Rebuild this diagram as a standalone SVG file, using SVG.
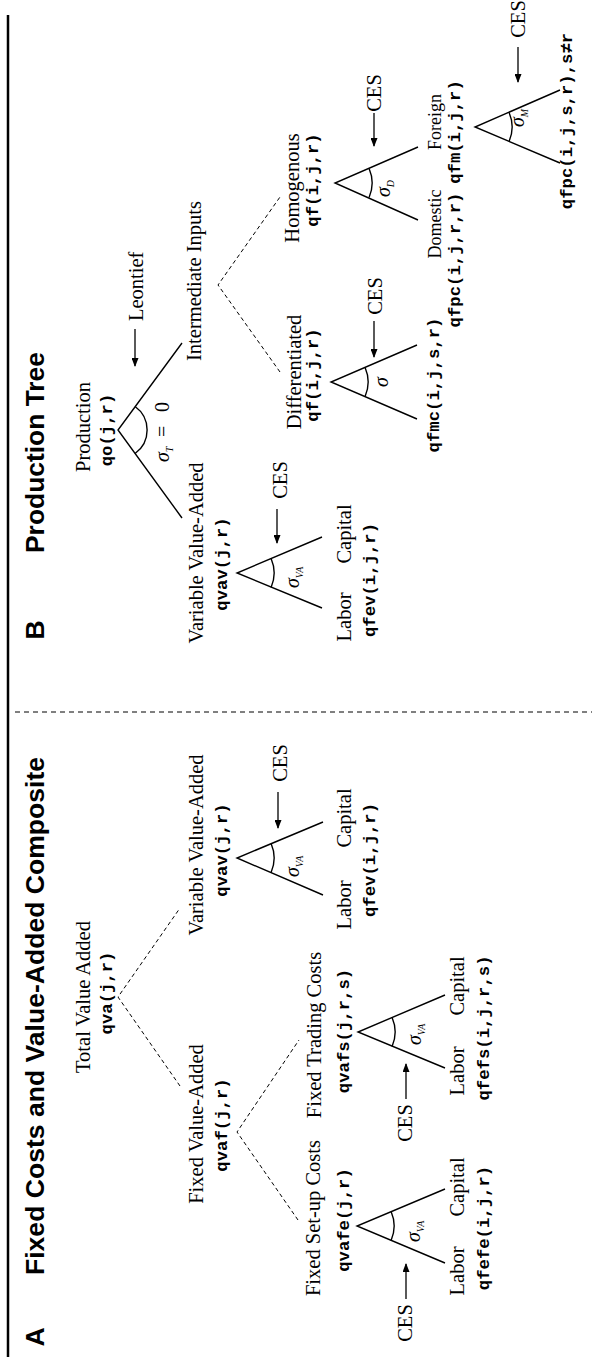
<svg xmlns="http://www.w3.org/2000/svg" width="592" height="1357" viewBox="0 0 592 1357">
<defs>
<style>
.t{font-family:"Liberation Serif","Times New Roman",serif;font-size:20.5px;text-anchor:middle;fill:#000}
.s{font-size:18px}
.st{text-anchor:start}
.c{font-family:"Liberation Mono","Courier New",monospace;font-weight:bold;font-size:17.3px;text-anchor:middle;fill:#000}
.g{font-family:"Liberation Serif","Times New Roman",serif;font-style:italic;font-size:20px;fill:#000}
.sb{font-size:10px}
.h{font-family:"Liberation Sans",Arial,sans-serif;font-weight:bold;font-size:26.5px;fill:#000}
.ln{stroke:#000;stroke-width:1.4;fill:none}
.ds{stroke:#000;stroke-width:1;stroke-dasharray:4 3;fill:none}
.ar{stroke:#000;stroke-width:1.3;fill:none;marker-end:url(#ah)}
</style>
<marker id="ah" markerWidth="9" markerHeight="7" refX="8" refY="3.5" orient="auto" markerUnits="userSpaceOnUse"><path d="M0,0 L9,3.5 L0,7 z" fill="#000"/></marker>
</defs>
<rect width="592" height="1357" fill="#fff"/>
<g transform="translate(0,1357) rotate(-90)">
  <g id="frame">
    <line x1="0" y1="8" x2="1342" y2="8" stroke="#000" stroke-width="2.5"/>
    <line x1="645" y1="15" x2="645" y2="592" stroke="#000" stroke-width="1" stroke-dasharray="5 4"/>
  </g>
  <g id="titleA">
    <text class="h" x="20" y="44" text-anchor="middle" font-size="28">A</text>
    <text class="h" x="82" y="44" textLength="518" lengthAdjust="spacingAndGlyphs">Fixed Costs and Value-Added Composite</text>
  </g>
  <g id="titleB">
    <text class="h" x="727" y="44" text-anchor="middle" font-size="28">B</text>
    <text class="h" x="804" y="44" textLength="201" lengthAdjust="spacingAndGlyphs">Production Tree</text>
  </g>

  <g id="connectors">
    <path class="ds" d="M271,180 L360,118 L449,180"/>
    <path class="ds" d="M137,298 L225,237 L317,299"/>
    <path class="ds" d="M985,280 L1072,218 L1160,280"/>
    <path class="ln" d="M94,445 L131,357 L168,445"/>
    <path class="ln" d="M289,445 L325,358 L362,445"/>
    <path class="ln" d="M462,323 L499,237 L535,323"/>
    <path class="ln" d="M839,182 L927,118 L1014,182"/>
    <path class="ln" d="M749,322 L784,237 L820,322"/>
    <path class="ln" d="M938,417 L975,331 L1012,417"/>
    <path class="ln" d="M1137,418 L1174,335 L1210,418"/>
    <path class="ln" d="M1194,560 L1230,475 L1267,560"/>
    <path class="ln" d="M116.5,391.1 A37,37 0 0 0 145.5,391.1"/>
    <path class="ln" d="M310.5,392.1 A37,37 0 0 0 339.5,392.1"/>
    <path class="ln" d="M484.5,271.1 A37,37 0 0 0 513.5,271.1"/>
    <path class="ln" d="M903.5,135.1 A29,29 0 0 0 950.5,135.1"/>
    <path class="ln" d="M769.5,271.1 A37,37 0 0 0 798.5,271.1"/>
    <path class="ln" d="M960.5,365.1 A37,37 0 0 0 989.5,365.1"/>
    <path class="ln" d="M1159.5,369.1 A37,37 0 0 0 1188.5,369.1"/>
    <path class="ln" d="M1215.5,509.1 A37,37 0 0 0 1244.5,509.1"/>
    <path class="ar" d="M58,406 L93,406"/>
    <path class="ar" d="M258,406 L293,406"/>
    <path class="ar" d="M565,278 L529,278"/>
    <path class="ar" d="M1028,135 L991,135"/>
    <path class="ar" d="M848,277 L814,277"/>
    <path class="ar" d="M1036,374 L1000,374"/>
    <path class="ar" d="M1244,374 L1211,374"/>
    <path class="ar" d="M1310,518 L1275,518"/>
  </g>

  <g id="nodeTotalVA">
    <text class="t" x="360" y="90">Total Value Added</text>
    <text class="c" x="364" y="112">qva(j,r)</text>
  </g>
  <g id="nodeFixedVA">
    <text class="t" x="233" y="203">Fixed Value-Added</text>
    <text class="c" x="232" y="227">qvaf(j,r)</text>
  </g>
  <g id="nodeVariableVA_A">
    <text class="t" x="512" y="203">Variable Value-Added</text>
    <text class="c" x="507" y="227">qvav(j,r)</text>
    <text class="g" x="480" y="299">σ<tspan class="sb" dy="4">VA</tspan></text>
    <text class="t" x="594" y="287">CES</text>
    <text class="t" x="452" y="351">Labor</text>
    <text class="t" x="539" y="351">Capital</text>
    <text class="c" x="497" y="375">qfev(i,j,r)</text>
  </g>
  <g id="nodeSetup">
    <text class="t" x="139" y="320">Fixed Set-up Costs</text>
    <text class="c" x="137" y="349">qvafe(j,r)</text>
    <text class="g" x="115" y="420">σ<tspan class="sb" dy="4">VA</tspan></text>
    <text class="t" x="34" y="412">CES</text>
    <text class="t" x="86" y="464">Labor</text>
    <text class="t" x="170" y="464">Capital</text>
    <text class="c" x="129" y="489">qfefe(i,j,r)</text>
  </g>
  <g id="nodeTrading">
    <text class="t" x="322" y="321">Fixed Trading Costs</text>
    <text class="c" x="326" y="349">qvafs(j,r,s)</text>
    <text class="g" x="312" y="421">σ<tspan class="sb" dy="4">VA</tspan></text>
    <text class="t" x="234" y="412">CES</text>
    <text class="t" x="286" y="464">Labor</text>
    <text class="t" x="371" y="464">Capital</text>
    <text class="c" x="329" y="489">qfefs(i,j,r,s)</text>
  </g>

  <g id="nodeProduction">
    <text class="t" x="930" y="90">Production</text>
    <text class="c" x="927" y="112">qo(j,r)</text>
    <text class="g" x="895" y="169">σ<tspan class="sb" dy="4">T</tspan><tspan x="920" dy="-4" font-style="normal">=</tspan><tspan x="945" font-style="normal">0</tspan></text>
    <text class="t st" x="1036" y="143">Leontief</text>
  </g>
  <g id="nodeVariableVA_B">
    <text class="t" x="804" y="203">Variable Value-Added</text>
    <text class="c" x="793" y="227">qvav(j,r)</text>
    <text class="g" x="769" y="299">σ<tspan class="sb" dy="4">VA</tspan></text>
    <text class="t" x="877" y="287">CES</text>
    <text class="t" x="740" y="351">Labor</text>
    <text class="t" x="823" y="351">Capital</text>
    <text class="c" x="777" y="375">qfev(i,j,r)</text>
  </g>
  <g id="nodeIntermediate">
    <text class="t" x="1076" y="201">Intermediate Inputs</text>
  </g>
  <g id="nodeDifferentiated">
    <text class="t" x="985" y="301">Differentiated</text>
    <text class="c" x="982" y="318">qf(i,j,r)</text>
    <text class="g" x="975" y="388" text-anchor="middle">σ</text>
    <text class="t" x="1061" y="382">CES</text>
    <text class="c" x="972" y="439">qfmc(i,j,s,r)</text>
  </g>
  <g id="nodeHomogenous">
    <text class="t" x="1169" y="299">Homogenous</text>
    <text class="c" x="1177" y="318">qf(i,j,r)</text>
    <text class="g" x="1160" y="390">σ<tspan class="sb" dy="4">D</tspan></text>
    <text class="t" x="1264" y="381">CES</text>
  </g>
  <g id="nodeDomestic">
    <text class="t s" x="1133" y="441">Domestic</text>
    <text class="c" x="1097" y="460">qfpc(i,j,r,r)</text>
  </g>
  <g id="nodeForeign">
    <text class="t s" x="1235" y="441">Foreign</text>
    <text class="c" x="1225" y="460">qfm(i,j,r)</text>
    <text class="g" x="1230" y="524">σ<tspan class="sb" dy="4">M</tspan></text>
    <text class="t" x="1338" y="525">CES</text>
    <text class="c" x="1236" y="572">qfpc(i,j,s,r),s≠r</text>
  </g>
</g>
</svg>
